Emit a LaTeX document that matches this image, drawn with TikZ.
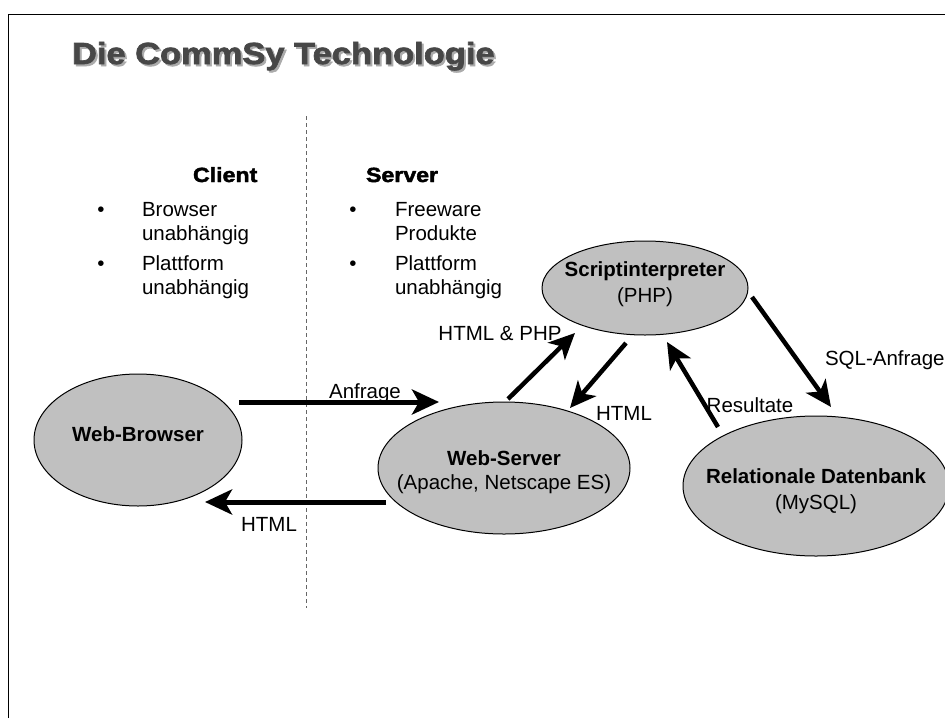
\documentclass[tikz,border=0pt]{standalone}
\usepackage{fontspec}
\setmainfont{Liberation Sans}
\newfontfamily\heavy[FakeBold=2.2,FakeStretch=1.13]{Liberation Sans}
\usetikzlibrary{shapes.geometric,arrows.meta,calc}
\definecolor{ellfill}{HTML}{C0C0C0}
\definecolor{titlegray}{HTML}{474747}
\definecolor{shadowgray}{HTML}{ABABAB}
\begin{document}
\begin{tikzpicture}[x=1pt,y=-1pt,
  every node/.style={inner sep=0pt,outer sep=0pt},
  txt/.style={font=\fontsize{20.5}{24}\selectfont, anchor=base},
  btxt/.style={font=\bfseries\fontsize{20.5}{24}\selectfont, anchor=base},
  head/.style={font=\heavy\bfseries\fontsize{20.5}{24}\selectfont, anchor=base west},
  ell/.style={ellipse, draw=black, line width=1pt, fill=ellfill},
  bigarrow/.style={line width=5pt, -{Stealth[length=27pt,width=25pt,inset=7pt]}},
  diagarrow/.style={line width=4.5pt, -{Stealth[length=26pt,width=24pt,inset=7pt]}}
]
\useasboundingbox (0,0) rectangle (945,718);
\fill[white] (0,0) rectangle (945,718);
% frame
\draw[line width=1pt] (8,718) -- (8,14) -- (945,14);
% title
\node[anchor=base west, text=shadowgray, font=\heavy\bfseries\fontsize{30.5}{36}\selectfont] (titleshadow) at (74,66) {Die CommSy Technologie};
\node[anchor=base west, text=titlegray, font=\heavy\bfseries\fontsize{30.5}{36}\selectfont] (title) at (72,64) {Die CommSy Technologie};
% divider
\draw[gray!80!black, line width=1pt, dash pattern=on 4pt off 3pt] (306,116) -- (306,608);
% client / server columns
\node[head] (client) at (193,182) {Client};
\node[head] (server) at (366,182) {Server};
\node[txt] (cb1) at (101,216) {•};
\node[txt, anchor=base west] (ct1) at (142,216) {Browser};
\node[txt, anchor=base west] (ct1b) at (142,240) {unabhängig};
\node[txt] (cb2) at (101,270) {•};
\node[txt, anchor=base west] (ct2) at (142,270) {Plattform};
\node[txt, anchor=base west] (ct2b) at (142,294) {unabhängig};
\node[txt] (sb1) at (353,216) {•};
\node[txt, anchor=base west] (st1) at (395,216) {Freeware};
\node[txt, anchor=base west] (st1b) at (395,240) {Produkte};
\node[txt] (sb2) at (353,270) {•};
\node[txt, anchor=base west] (st2) at (395,270) {Plattform};
\node[txt, anchor=base west] (st2b) at (395,294) {unabhängig};
% ellipses
\node[ell, minimum width=208pt, minimum height=132pt] (wb) at (138,440) {};
\node[ell, minimum width=252pt, minimum height=132pt] (ws) at (504,468) {};
\node[ell, minimum width=206pt, minimum height=94pt] (si) at (645,288) {};
\node[ell, minimum width=266pt, minimum height=140pt] (db) at (816,486) {};
% ellipse texts
\node[btxt] (wbt) at (138,441) {Web-Browser};
\node[btxt] (wst) at (504,465) {Web-Server};
\node[txt] (wst2) at (504,489) {(Apache, Netscape ES)};
\node[btxt] (sit) at (645,276) {Scriptinterpreter};
\node[txt] (sit2) at (645,302) {(PHP)};
\node[btxt] (dbt) at (816,483) {Relationale Datenbank};
\node[txt] (dbt2) at (816,509) {(MySQL)};
% arrow end points relative to nodes
\coordinate (a1s) at ($(wb.center)+(101,-38)$);
\coordinate (a1e) at ($(ws.center)+(-65,-66)$);
\coordinate (a2s) at ($(ws.center)+(-118,34)$);
\coordinate (a2e) at ($(wb.center)+(67,62)$);
\coordinate (a3s) at ($(ws.center)+(4,-69)$);
\coordinate (a3e) at ($(si.center)+(-70,45)$);
\coordinate (a4s) at ($(si.center)+(-19,55)$);
\coordinate (a4e) at ($(ws.center)+(66,-60)$);
\coordinate (a5s) at ($(db.center)+(-98,-59)$);
\coordinate (a5e) at ($(si.center)+(22,54)$);
\coordinate (a6s) at ($(si.center)+(107,9)$);
\coordinate (a6e) at ($(db.center)+(15,-79)$);
% arrows
\draw[bigarrow] (a1s) -- (a1e);
\draw[bigarrow] (a2s) -- (a2e);
\draw[diagarrow] (a3s) -- (a3e);
\draw[diagarrow] (a4s) -- (a4e);
\draw[diagarrow] (a5s) -- (a5e);
\draw[diagarrow] (a6s) -- (a6e);
% arrow labels
\node[txt] (l1) at (365,398) {Anfrage};
\node[txt] (l2) at (269,531) {HTML};
\node[txt] (l3) at (500,340) {HTML \& PHP};
\node[txt] (l4) at (624,420) {HTML};
\node[txt] (l5) at (750,412) {Resultate};
\node[txt, anchor=base west] (l6) at (825,365) {SQL-Anfrage};
\end{tikzpicture}
\end{document}
